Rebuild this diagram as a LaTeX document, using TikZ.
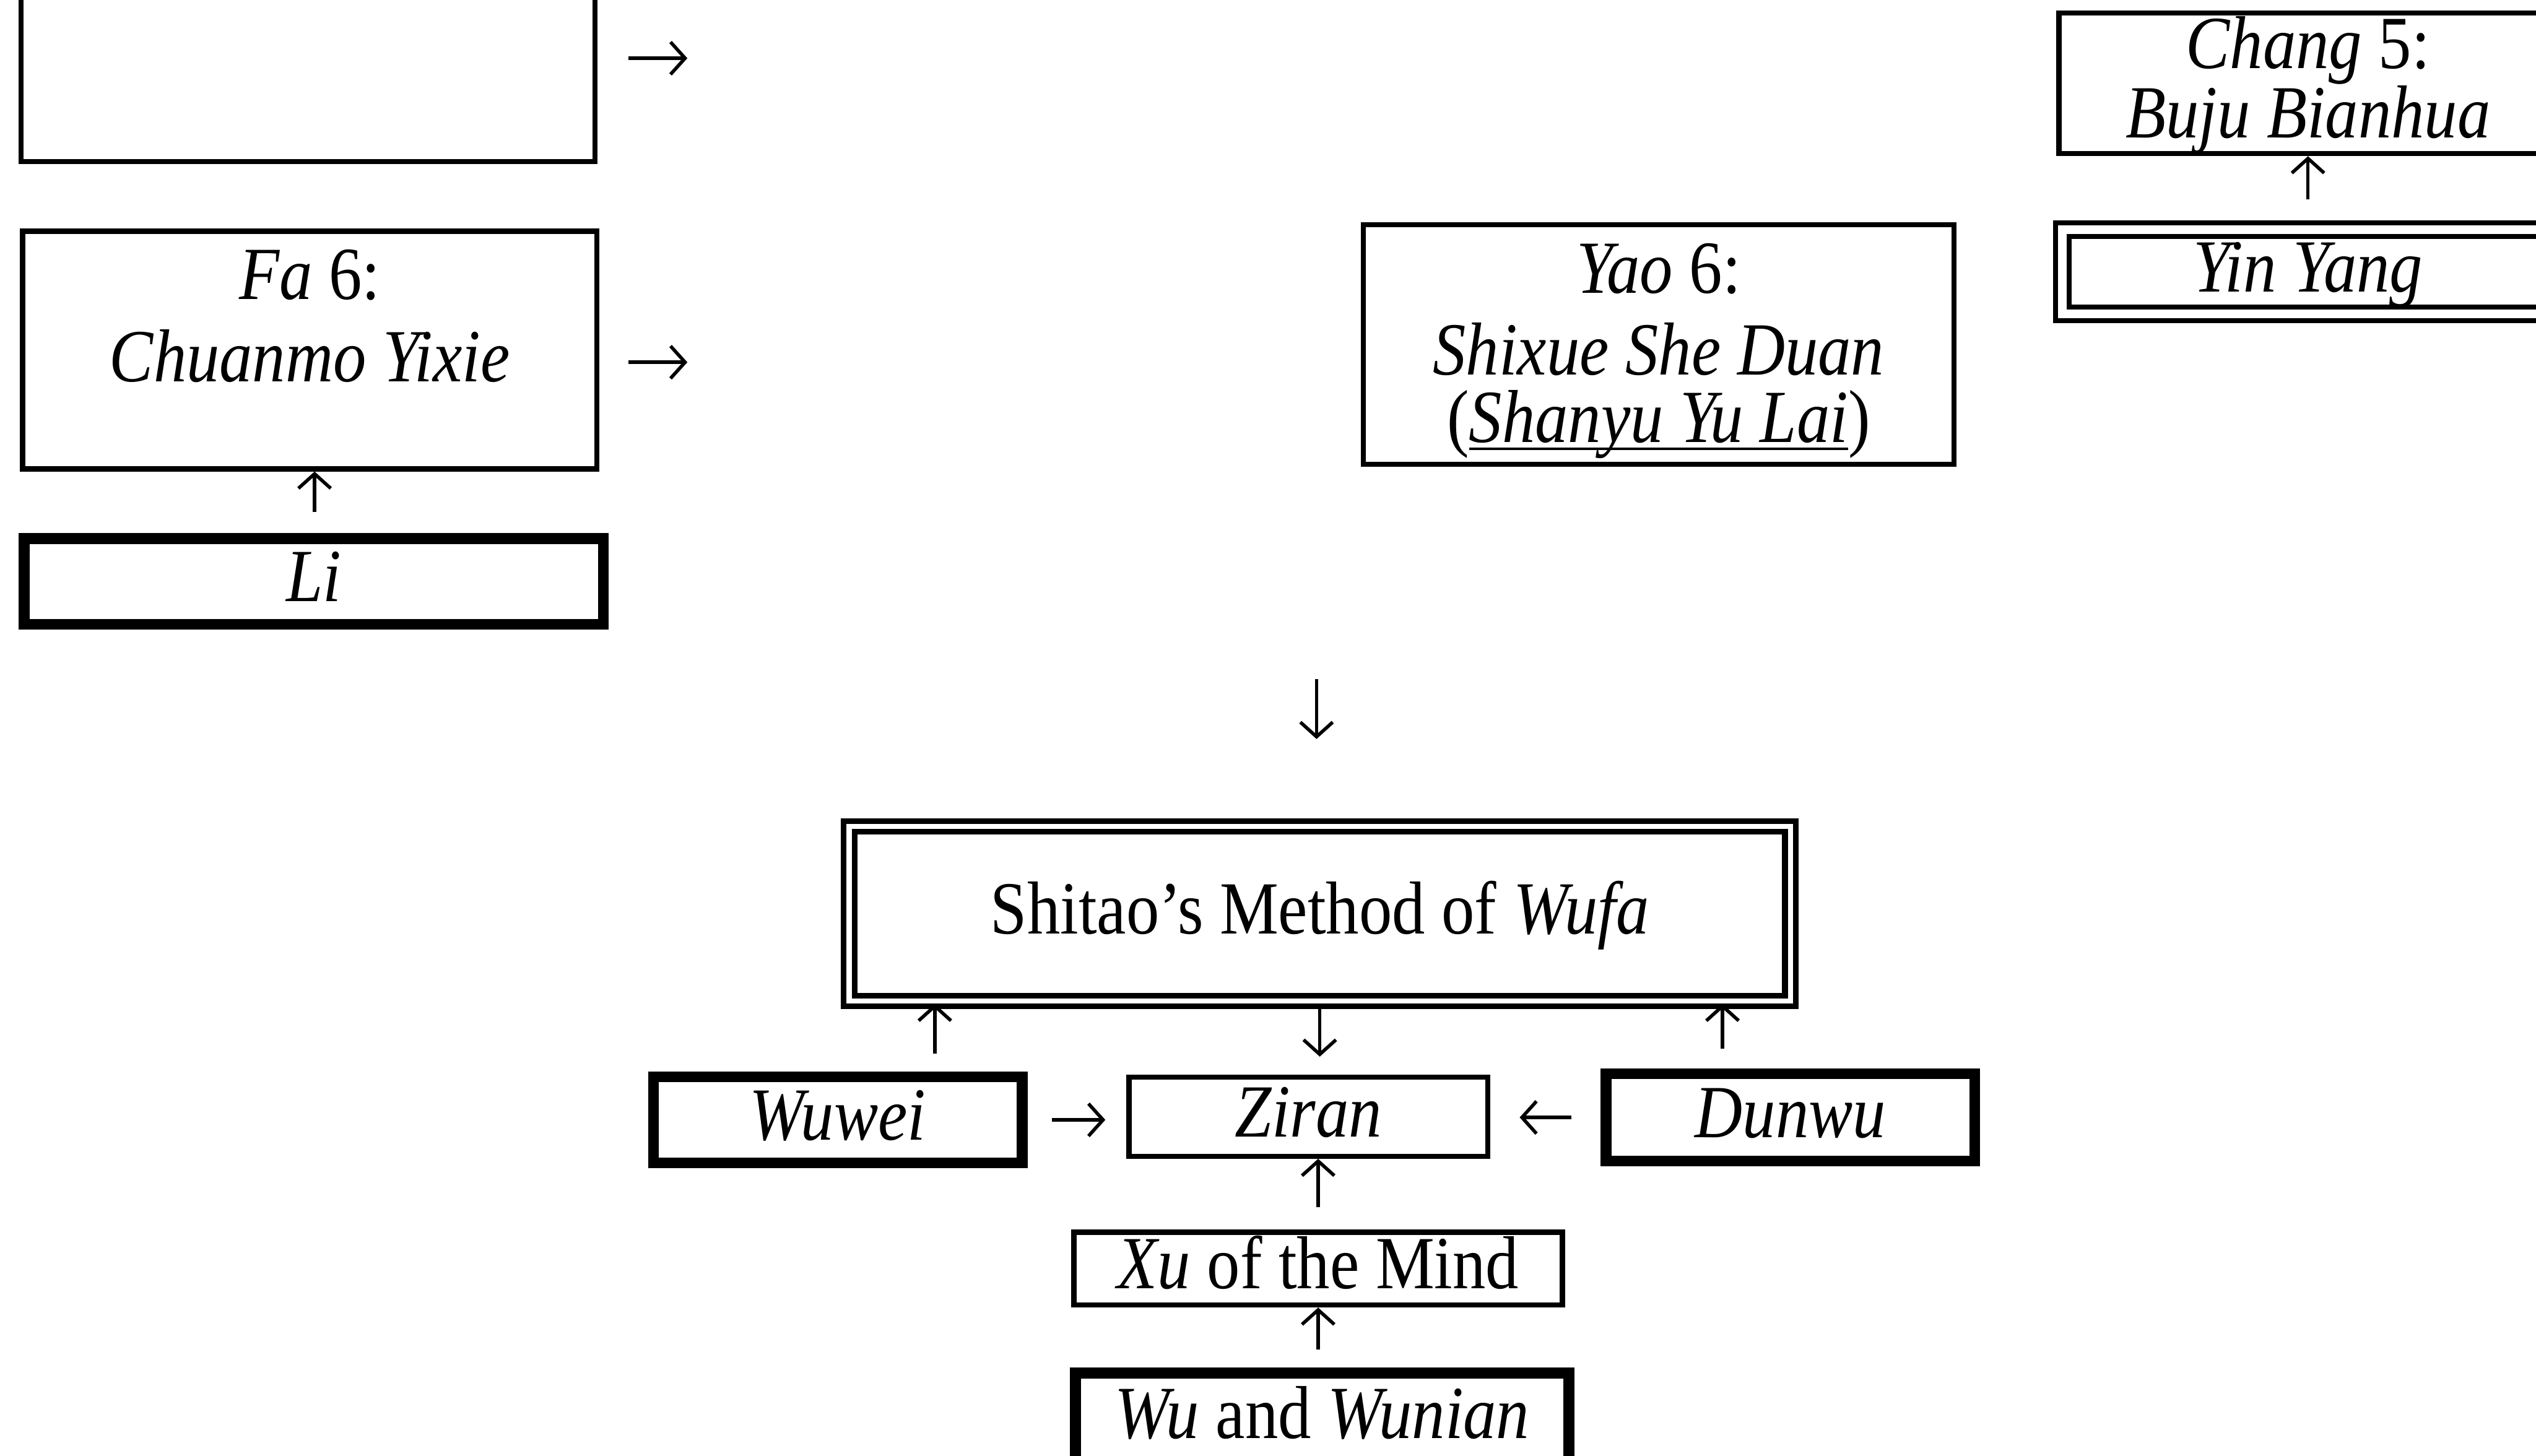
\documentclass[tikz,border=0pt]{standalone}
\usepackage{fontspec}
\setmainfont{Liberation Serif}[FakeStretch=0.88]
\usetikzlibrary{arrows.meta,calc}

\newcommand\undr[1]{\setbox0\hbox{#1}\rlap{\rule[-1.4pt]{\wd0}{0.5pt}}\box0}

\tikzset{
  box/.style={draw, line width=0.9pt, inner sep=0pt, text height=8.7pt, text depth=1.6pt},
  heavybox/.style={box, line width=1.9pt},
  dblbox/.style={box, double, line width=0.9pt, double distance=#1},
  dblbox/.default=0.9pt,
  arr/.style={-{Straight Barb[length=0.9mm,width=2mm]}, line width=0.6pt},
  boxtext/.style={align=center, inner sep=0pt},
}

\begin{document}
\begin{tikzpicture}[font=\fontsize{13.2pt}{14.4pt}\selectfont]
  \path[use as bounding box, clip] (0,0) rectangle (15.68,9);
  % left column
  \node[box, minimum width=3.55cm, minimum height=1.28cm] (prev) at (1.905,8.64) {};
  \node[box, minimum width=3.55cm, minimum height=1.47cm,
        label={[boxtext,yshift=2.1mm]center:{\textit{Fa} 6:\\\textit{Chuanmo Yixie}}}] (fa) at (1.915,6.835) {};
  \node[heavybox, minimum width=3.58cm, minimum height=0.53cm] (li) at (1.94,5.405) {\textit{Li}};
  \coordinate (prevout) at (4.25,8.64);
  \coordinate (faout) at (4.25,6.76);
  \draw[arr, shorten <=1.9mm] (prev.east) -- (prevout);
  \draw[arr, shorten <=1.8mm] (fa.east |- faout) -- (faout);
  \draw[arr, shorten <=1.3mm] ([xshift=0.3mm]fa.south |- li.north) -- ([xshift=0.3mm]fa.south);
  % middle and right
  \node[box, minimum width=3.65cm, minimum height=1.48cm,
        label={[boxtext,yshift=-0.4mm]center:{\textit{Yao} 6:\\\textit{Shixue She Duan}\\[-2.5pt](\undr{\textit{Shanyu Yu Lai}})}}] (yao) at (10.255,6.87) {};
  \node[box, minimum width=3.08cm, minimum height=0.87cm,
        label={[boxtext,yshift=-0.1mm]center:{\textit{Chang} 5:\\[-2.2pt]\textit{Buju Bianhua}}}] (chang) at (14.27,8.485) {};
  \node[dblbox=1.5pt, minimum width=3.04cm, minimum height=0.52cm] (yinyang) at (14.27,7.32) {\textit{Yin Yang}};
  \draw[arr, shorten <=1.7mm] (yinyang.north) -- (chang.south);
  \coordinate (from) at (8.14,4.80);
  \coordinate (into) at (8.14,4.43);
  \draw[arr] (from) -- (into);
  % method of wufa
  \node[dblbox=0.9pt, line width=1pt, minimum width=5.82cm, minimum height=1.08cm] (wufa) at (8.16,3.35) {Shitao’s Method of \textit{Wufa}};
  \node[heavybox, minimum width=2.28cm, minimum height=0.53cm] (wuwei) at (5.18,2.075) {\textit{Wuwei}};
  \node[box, minimum width=2.22cm, minimum height=0.49cm] (ziran) at (8.09,2.095) {\textit{Ziran}};
  \node[heavybox, minimum width=2.28cm, minimum height=0.54cm] (dunwu) at (11.07,2.09) {\textit{Dunwu}};
  \node[box, minimum width=3.02cm, minimum height=0.45cm] (xu) at (8.15,1.155) {\textit{Xu} of the Mind};
  \node[heavybox, minimum width=3.05cm, minimum height=0.56cm] (wunian) at (8.175,0.23) {\textit{Wu} and \textit{Wunian}};
  \draw[arr, shorten <=1.1mm] ([xshift=6mm]wuwei.north) -- ([xshift=6mm]wuwei.north |- wufa.south);
  \draw[arr, shorten <=1.2mm] ([xshift=-4.2mm]dunwu.north) -- ([xshift=-4.2mm]dunwu.north |- wufa.south);
  \draw[arr, shorten >=1.1mm] (wufa.south) -- (wufa.south |- ziran.north);
  \draw[arr, shorten <=1.5mm, shorten >=1.3mm] (wuwei.east) -- (wuwei.east -| ziran.west);
  \draw[arr, shorten <=1.8mm, shorten >=1.8mm] (dunwu.west) -- (dunwu.west -| ziran.east);
  \draw[arr, shorten <=1.4mm] (xu.north) -- (xu.north |- ziran.south);
  \draw[arr, shorten <=1.1mm] (xu.south |- wunian.north) -- (xu.south);
\end{tikzpicture}
\end{document}
